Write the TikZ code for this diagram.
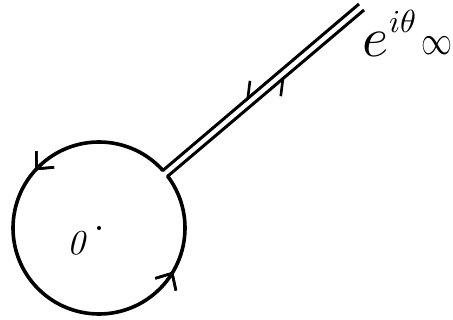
\documentclass[tikz,border=0pt]{standalone}
\usepackage{graphicx}
\usetikzlibrary{decorations.markings,arrows.meta,calc}
\begin{document}
\begin{tikzpicture}[x=1pt,y=-1pt,
  curve/.style={line width=3.6pt,line cap=round},
  rail/.style={line width=3pt},
  arr/.style={postaction={decorate},decoration={markings,mark=at position #1 with {\arrow[line width=2.6pt]{Straight Barb[length=13pt,width=24pt]}}}},
  harp/.style 2 args={postaction={decorate},decoration={markings,mark=at position #1 with {\arrow[line width=2.6pt]{Straight Barb[length=13pt,width=24pt,#2]}}}}]
\useasboundingbox (0,0) rectangle (453,320);
\coordinate (c) at (99,228);
\coordinate (u0) at ($(c)+(-42:86)$);
\coordinate (l0) at ($(c)+(-37:86)$);
\coordinate (u1) at (359,4);
\coordinate (l1) at (364,10);
\draw[curve,arr=0.27,arr=0.81] (u0) arc[start angle=-42,end angle=-397,radius=86];
\draw[rail,harp={0.58}{right}] (u1) -- (u0);
\draw[rail,harp={0.60}{right}] (l0) -- (l1);
\fill (c) circle (2pt);
\node[anchor=center] (zero) at (76.5,243) {\scalebox{3.5}{\itshape 0}};
\node[anchor=base west,inner sep=0pt] (ee) at (362,56.5) {\scalebox{5.6}{$e$}};
\node[anchor=base west,inner sep=0pt] (sup) at (389,33) {\scalebox{3.2}{$i\theta$}};
\node[anchor=base west,inner sep=0pt] (inf) at (421,55) {\scalebox{3.1}[4.1]{$\infty$}};
\end{tikzpicture}
\end{document}
